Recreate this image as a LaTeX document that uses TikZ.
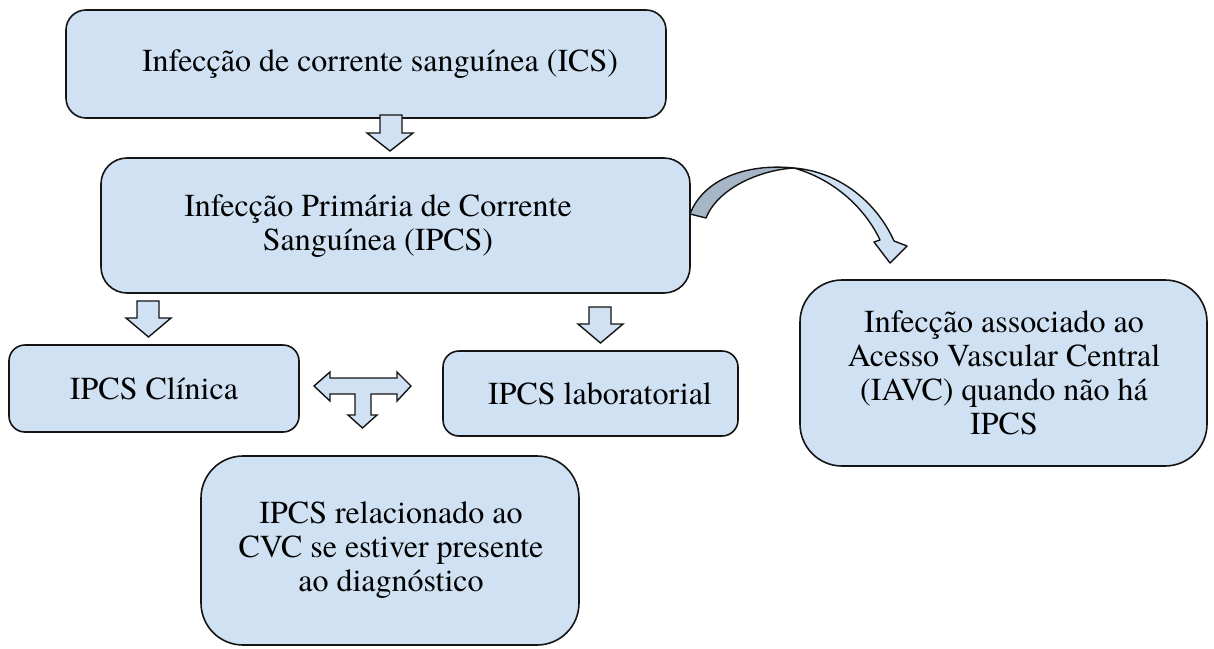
\documentclass[tikz,border=0pt]{standalone}
\usepackage{fontspec}
\setmainfont{texgyretermes}[Extension=.otf, UprightFont=*-regular, BoldFont=*-bold, ItalicFont=*-italic, BoldItalicFont=*-bolditalic]
\definecolor{boxfill}{RGB}{207,225,242}
\definecolor{darkfill}{RGB}{166,182,198}
\definecolor{edge}{RGB}{20,20,20}
\begin{document}
\begin{tikzpicture}[x=1pt,y=-1pt,
  box/.style={draw=edge, fill=boxfill, line width=1.6pt, inner sep=0pt},
  txt/.style={align=center, inner sep=0pt, font=\rmfamily\fontsize{32}{34}\selectfont},
  blockarrow/.style={draw=edge, fill=boxfill, line width=1.4pt, line join=miter}]
\useasboundingbox (0,0) rectangle (1214,648);

% boxes
\node[box, minimum width=600pt, minimum height=108pt, rounded corners=20pt] (ics) at (366,64) {};
\node[txt] (icstext) at (380,64) {Infecção de corrente sanguínea (ICS)};
\node[box, minimum width=589pt, minimum height=135pt, rounded corners=26pt] (ipcs) at (395.5,225.5) {};
\node[txt] (ipcstext) at (378,226) {Infecção Primária de Corrente\\Sanguínea (IPCS)};
\node[box, minimum width=290pt, minimum height=87pt, rounded corners=16pt] (clin) at (154,388.5) {};
\node[txt] (clintext) at (154,389) {IPCS Clínica};
\node[box, minimum width=295pt, minimum height=85pt, rounded corners=16pt] (lab) at (590.5,393.5) {};
\node[txt] (labtext) at (600,394) {IPCS laboratorial};
\node[box, minimum width=407pt, minimum height=186pt, rounded corners=42pt] (iavc) at (1003.5,373) {};
\node[txt] (iavctext) at (1004,373) {Infecção associado ao\\Acesso Vascular Central\\(IAVC) quando não há\\IPCS};
\node[box, minimum width=378pt, minimum height=189pt, rounded corners=42pt] (cvc) at (390,550.5) {};
\node[txt] (cvctext) at (391,550) {IPCS relacionado ao\\CVC se estiver presente\\ao diagnóstico};

% block arrows down
\draw[blockarrow] (380,115) -- (402,115) -- (402,133) -- (413,133) -- (390,151) -- (367,133) -- (380,133) -- cycle;
\draw[blockarrow] (137,301) -- (159,301) -- (159,318) -- (171,318) -- (148.5,337) -- (126,318) -- (137,318) -- cycle;
\draw[blockarrow] (589,307) -- (611,307) -- (611,324) -- (623,324) -- (600.5,343) -- (578,324) -- (589,324) -- cycle;

% T arrow
\draw[blockarrow] (314,386) -- (330,372) -- (330,378) -- (397,378) -- (397,372) -- (411,386) -- (397,401) -- (397,394) -- (371,394) -- (371,415) -- (377,415) -- (362.5,428) -- (348,415) -- (355,415) -- (355,394) -- (330,394) -- (330,401) -- cycle;

% curved arrow
\draw[blockarrow, fill=darkfill, line join=round] (690,214) .. controls (703,180) and (745,163) .. (794,168)
  .. controls (760,170) and (718,188) .. (706,218) -- cycle;
\draw[blockarrow, line join=round] (794,168) .. controls (842,172) and (878,205) .. (894,241)
  -- (907,246) -- (890,263) -- (874,242) -- (880,240)
  .. controls (866,210) and (836,180) .. (794,168) -- cycle;
\end{tikzpicture}
\end{document}
